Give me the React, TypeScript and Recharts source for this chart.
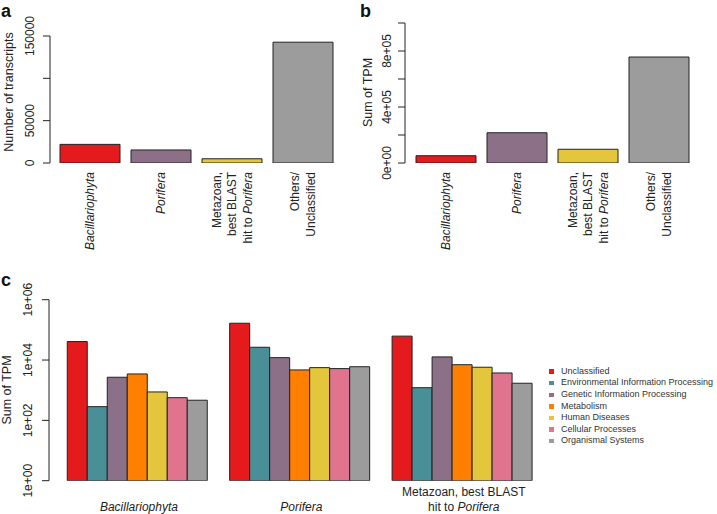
import React from "react";
import { Bar, BarChart, Cell, Legend, XAxis, YAxis } from "recharts";

const FONT = '"Liberation Sans", Arial, Helvetica, sans-serif';
const INK = "#222";

// panels a & b: one bar per taxon
const TAXA = ["Bacillariophyta", "Porifera", "Metazoan", "Others"];
// *text* marks italic runs
const TAXON_LABELS = [
  ["*Bacillariophyta*"],
  ["*Porifera*"],
  ["Metazoan,", "best BLAST", "hit to *Porifera*"],
  ["Others/", "Unclassified"],
];
const TAXON_COLORS = ["#E41A1C", "#8B7087", "#E3C63C", "#9C9C9C"];
const TRANSCRIPTS = [22000, 15400, 5000, 142700];
const TPM_TOTAL = [52000, 216000, 98000, 757000];

const A_TICKS = [0, 50000, 100000, 150000];
const A_TICK_LABELS = ["0", "50000", "", "150000"];
const B_TICKS = [0, 200000, 400000, 600000, 800000, 1000000];
const B_TICK_LABELS = ["0e+00", "", "4e+05", "", "8e+05", ""];

// panel c: KEGG categories per taxon group
const GROUPS = ["Bacillariophyta", "Porifera", "Metazoan"];
const GROUP_LABELS = [
  ["*Bacillariophyta*"],
  ["*Porifera*"],
  ["Metazoan, best BLAST", "hit to *Porifera*"],
];
const KEGG = [
  "Unclassified",
  "Environmental Information Processing",
  "Genetic Information Processing",
  "Metabolism",
  "Human Diseases",
  "Cellular Processes",
  "Organismal Systems",
];
const KEGG_COLORS = ["#E41A1C", "#4A8F97", "#8B7087", "#FF7F00", "#E3C63C", "#E0748F", "#9C9C9C"];
const UNCLASSIFIED = [41000, 166000, 62000];
const ENV_INFO = [285, 26500, 1210];
const GEN_INFO = [2690, 12000, 12700];
const METABOLISM = [3460, 4700, 7000];
const HUMAN_DISEASES = [875, 5600, 5770];
const CELLULAR = [565, 5200, 3730];
const ORGANISMAL = [465, 6000, 1700];
const KEGG_VALUES = [UNCLASSIFIED, ENV_INFO, GEN_INFO, METABOLISM, HUMAN_DISEASES, CELLULAR, ORGANISMAL];

const C_TICKS = [1, 100, 10000, 1000000];
const C_TICK_LABELS = ["1e+00", "1e+02", "1e+04", "1e+06"];

const aData = TAXA.map((t, i) => ({ taxon: t, value: TRANSCRIPTS[i] }));
const bData = TAXA.map((t, i) => ({ taxon: t, value: TPM_TOTAL[i] }));
const cData = GROUPS.map((g, gi) => {
  const row: Record<string, string | number> = { group: g };
  KEGG.forEach((k, ki) => {
    row[k] = KEGG_VALUES[ki][gi];
  });
  return row;
});

function rich(line: string) {
  return line.split("*").map((s, i) => (
    <tspan key={i} fontStyle={i % 2 ? "italic" : "normal"}>
      {s}
    </tspan>
  ));
}

const textStyle = { fontFamily: FONT, fontSize: 12, fill: INK };

function TaxonTick({ x, y, payload }: any) {
  const lines = TAXON_LABELS[TAXA.indexOf(payload.value)] || [];
  const n = lines.length;
  return (
    <g>
      {lines.map((l, i) => {
        const lx = x + (i - (n - 1) / 2) * 15.5;
        return (
          <text key={i} x={lx} y={y} transform={`rotate(-90 ${lx} ${y})`} textAnchor="end" dy="0.35em" {...textStyle}>
            {rich(l)}
          </text>
        );
      })}
    </g>
  );
}

function GroupTick({ x, y, payload }: any) {
  const lines = GROUP_LABELS[GROUPS.indexOf(payload.value)] || [];
  const n = lines.length;
  return (
    <g>
      {lines.map((l, i) => (
        <text key={i} x={x} y={y + 30 - (n - 1 - i) * 15} textAnchor="middle" {...textStyle}>
          {rich(l)}
        </text>
      ))}
    </g>
  );
}

function ValueTick({ x, y, payload, vals, texts }: any) {
  const label = texts[vals.indexOf(payload.value)];
  if (!label) return <g />;
  return (
    <text x={x} y={y} transform={`rotate(-90 ${x} ${y})`} textAnchor="middle" dy="0.35em" {...textStyle}>
      {label}
    </text>
  );
}

function AxisTitle({ tx, ty, text }: any) {
  return (
    <text x={tx} y={ty} transform={`rotate(-90 ${tx} ${ty})`} textAnchor="middle" dy="0.35em" {...textStyle} fontSize={12.5}>
      {text}
    </text>
  );
}

function KeggLegend() {
  return (
    <div style={{ fontFamily: FONT, fontSize: 9, color: "#333" }}>
      {KEGG.map((k, i) => (
        <div key={k} style={{ height: 11.55, lineHeight: "11.55px", whiteSpace: "nowrap", display: "flex", alignItems: "center" }}>
          <span style={{ width: 4.5, height: 4.5, background: KEGG_COLORS[i], marginLeft: 1, marginRight: 7.5, flex: "none" }} />
          <span>{k}</span>
        </div>
      ))}
    </div>
  );
}

export default function App() {
  return (
    <div style={{ position: "absolute", left: 0, top: 0, width: 717, height: 514, background: "#fff", overflow: "hidden" }}>
      {/* a: number of transcripts */}
      <div style={{ position: "absolute", left: 0, top: 0 }}>
        <BarChart width={350} height={270} data={aData} margin={{ top: 36, right: 11.5, bottom: 7, left: 0 }} barCategoryGap={5.5}>
          <XAxis dataKey="taxon" height={100} axisLine={false} tickLine={false} tickSize={6} tickMargin={3} interval={0} padding={{ left: 4.5, right: 0 }} tick={<TaxonTick />} />
          <YAxis
            type="number"
            width={50}
            domain={[0, 150000]}
            ticks={A_TICKS}
            interval={0}
            allowDataOverflow
            tickSize={7}
            tickMargin={13}
            axisLine={{ stroke: INK }}
            tickLine={{ stroke: INK }}
            tick={(p: any) => <ValueTick {...p} vals={A_TICKS} texts={A_TICK_LABELS} />}
            label={<AxisTitle tx={9} ty={92} text="Number of transcripts" />}
          />
          <Bar dataKey="value" stroke={INK} strokeWidth={1} isAnimationActive={false}>
            {aData.map((_, i) => (
              <Cell key={i} fill={TAXON_COLORS[i]} />
            ))}
          </Bar>
        </BarChart>
      </div>

      {/* b: sum of TPM */}
      <div style={{ position: "absolute", left: 355, top: 0 }}>
        <BarChart width={362} height={270} data={bData} margin={{ top: 23, right: 22.5, bottom: 7, left: 0 }} barCategoryGap={5.5}>
          <XAxis dataKey="taxon" height={100} axisLine={false} tickLine={false} tickSize={6} tickMargin={3} interval={0} padding={{ left: 5.5, right: 0 }} tick={<TaxonTick />} />
          <YAxis
            type="number"
            width={50}
            domain={[0, 1000000]}
            ticks={B_TICKS}
            interval={0}
            allowDataOverflow
            tickSize={7}
            tickMargin={11.5}
            axisLine={{ stroke: INK }}
            tickLine={{ stroke: INK }}
            tick={(p: any) => <ValueTick {...p} vals={B_TICKS} texts={B_TICK_LABELS} />}
            label={<AxisTitle tx={12.5} ty={92.5} text="Sum of TPM" />}
          />
          <Bar dataKey="value" stroke={INK} strokeWidth={1} isAnimationActive={false}>
            {bData.map((_, i) => (
              <Cell key={i} fill={TAXON_COLORS[i]} />
            ))}
          </Bar>
        </BarChart>
      </div>

      {/* c: TPM per KEGG category, log scale */}
      <div style={{ position: "absolute", left: 0, top: 270 }}>
        <BarChart width={717} height={244} data={cData} margin={{ top: 29.7, right: 3, bottom: 3.3, left: 0 }} barCategoryGap={9.5} barGap={0}>
          <XAxis dataKey="group" height={30} axisLine={false} tickLine={false} tickSize={0} tickMargin={0} interval={0} padding={{ left: 8.75, right: 0 }} tick={<GroupTick />} />
          <YAxis
            type="number"
            scale="log"
            width={49}
            domain={[1, 1000000]}
            ticks={C_TICKS}
            interval={0}
            allowDataOverflow
            tickSize={7}
            tickMargin={14}
            axisLine={{ stroke: INK }}
            tickLine={{ stroke: INK }}
            tick={(p: any) => <ValueTick {...p} vals={C_TICKS} texts={C_TICK_LABELS} />}
            label={<AxisTitle tx={7} ty={120} text="Sum of TPM" />}
          />
          <Legend layout="vertical" align="right" verticalAlign="top" wrapperStyle={{ left: 548, top: 95.9, width: 169 }} content={<KeggLegend />} />
          {KEGG.map((k, i) => (
            <Bar key={k} dataKey={k} name={k} fill={KEGG_COLORS[i]} stroke={INK} strokeWidth={1} isAnimationActive={false} />
          ))}
        </BarChart>
      </div>

      <svg width={717} height={514} style={{ position: "absolute", left: 0, top: 0, pointerEvents: "none" }}>
        <g fontFamily={FONT} fontWeight="bold" fontSize={18} fill="#111">
          <text x={1} y={16.5}>a</text>
          <text x={360} y={16.5}>b</text>
          <text x={1} y={286}>c</text>
        </g>
      </svg>
    </div>
  );
}
